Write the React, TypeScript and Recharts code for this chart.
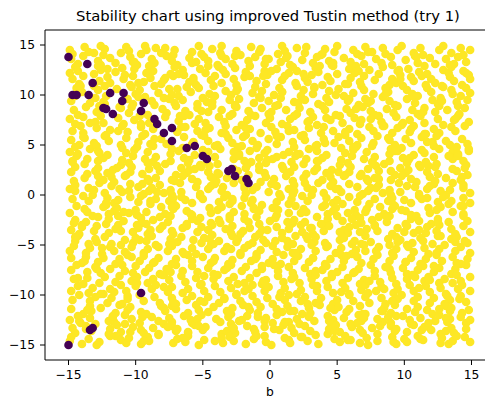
import { ScatterChart, Scatter, XAxis, YAxis, ReferenceLine } from 'recharts';

const TICKS = [-15, -10, -5, 0, 5, 10, 15];
const YELLOW = '#fde725';
const PURPLE = '#440154';
const FONT = '"DejaVu Sans", sans-serif';

// stable samples (x = b, y = second parameter)
const yellowTop = [
  [-14.9,14.5],[-14.7,14.1],[-13.8,14.8],[-13.5,14.3],[-12.6,14.9],[-12.4,14.0],[-12.3,14.6],[-11.1,14.2],[-10.7,14.8],[-10.5,14.4],
  [-9.6,14.1],[-9.3,14.9],[-9.2,14.5],[-8.1,14.2],[-7.8,14.7],[-7.2,14.0],[-7.1,14.5],[-5.8,14.3],[-5.3,14.9],[-5.1,14.1],
  [-4.3,14.6],[-3.7,14.2],[-3.6,14.9],[-2.5,14.4],[-2.2,14.0],[-1.4,14.8],[-0.8,14.3],[-0.7,14.6],[0.6,14.1],[0.9,14.9],
  [1.1,14.4],[2.0,14.7],[2.6,14.2],[2.7,14.8],[3.8,14.0],[4.1,14.6],[4.8,14.3],[5.0,14.9],[6.2,14.5],[6.5,14.1],
  [7.1,14.8],[7.3,14.3],[8.4,14.7],[8.6,14.1],[9.5,14.5],[9.8,14.9],[10.7,14.2],[11.2,14.7],[11.4,14.0],[12.6,14.5],
  [12.9,14.9],[13.5,14.2],[14.2,14.7],[14.4,14.0],[14.9,14.5],
  [-14.8,13.6],[-14.3,13.1],[-13.9,13.9],[-12.8,13.4],[-12.6,13.0],[-11.9,13.7],[-11.5,13.2],[-10.4,13.8],[-10.2,13.3],[-9.9,13.0],
  [-8.8,13.6],[-8.6,13.2],[-7.7,13.9],[-7.3,13.4],[-6.9,13.0],[-6.0,13.7],[-5.8,13.2],[-4.9,13.8],[-4.6,13.4],[-3.9,13.0],
  [-3.3,13.6],[-2.8,13.1],[-2.6,13.9],[-1.6,13.4],[-1.1,13.8],[-0.4,13.1],[-0.1,13.6],[0.8,13.3],[1.3,13.9],[1.5,13.0],
  [2.4,13.5],[3.2,13.2],[3.5,13.8],[4.4,13.4],[4.6,13.0],[5.5,13.7],[6.0,13.3],[6.8,13.9],[7.0,13.1],[7.9,13.6],
  [8.3,13.2],[9.0,13.8],[9.1,13.0],[10.1,13.5],[10.8,13.9],[11.0,13.2],[11.9,13.7],[12.3,13.1],[13.1,13.6],[13.4,13.0],
  [14.0,13.8],[14.6,13.3],
  [-14.9,12.2],[-14.5,12.8],[-14.3,12.4],[-13.1,12.1],[-12.8,12.9],[-12.6,12.5],[-11.5,12.3],[-11.0,12.7],[-10.8,12.0],[-10.1,12.6],
  [-9.2,12.2],[-9.0,12.9],[-8.7,12.4],[-7.4,12.1],[-7.1,12.8],[-6.5,12.5],[-6.4,12.0],[-5.2,12.6],[-4.8,12.2],[-4.6,12.9],
  [-3.5,12.5],[-3.3,12.1],[-2.6,12.7],[-1.8,12.3],[-1.5,12.9],[-0.4,12.4],[-0.2,12.0],[0.5,12.6],[1.4,12.2],[1.7,12.8],
  [2.0,12.4],[3.1,12.0],[3.4,12.7],[3.6,12.3],[4.7,12.9],[5.0,12.1],[5.9,12.6],[6.3,12.2],[6.4,12.9],[7.4,12.5],
  [8.1,12.1],[8.4,12.8],[9.5,12.4],[9.7,12.0],[10.3,12.6],[11.1,12.3],[11.5,12.9],[11.7,12.1],[12.9,12.5],[13.3,12.2],
  [13.5,12.8],[14.4,12.4],[14.8,12.0],
  [-14.7,11.6],[-14.2,11.1],[-13.9,11.9],[-12.7,11.4],[-12.1,11.8],[-11.9,11.2],[-10.9,11.6],[-10.4,11.0],[-10.2,11.9],[-9.4,11.3],
  [-8.9,11.7],[-8.1,11.1],[-7.9,11.5],[-7.2,11.9],[-6.0,11.3],[-5.7,11.7],[-5.5,11.0],[-4.4,11.5],[-4.1,11.9],[-3.6,11.2],
  [-2.7,11.6],[-2.5,11.0],[-1.9,11.8],[-1.0,11.4],[-0.5,11.9],[-0.3,11.1],[0.9,11.5],[1.1,11.9],[1.9,11.2],[2.6,11.7],
  [2.8,11.3],[3.9,11.0],[4.3,11.8],[4.5,11.4],[5.6,11.1],[6.0,11.7],[6.7,11.3],[7.0,11.9],[7.8,11.5],[8.9,11.0],
  [9.1,11.6],[9.4,11.2],[10.5,11.8],[10.7,11.4],[11.6,11.0],[12.0,11.6],[12.3,11.2],[13.4,11.8],[13.7,11.4],[14.3,11.0],
  [14.9,11.6],
  [-14.4,10.7],[-14.0,10.3],[-13.1,10.9],[-12.8,10.5],[-12.3,10.9],[-11.4,10.6],[-10.3,10.8],[-10.0,10.1],[-9.7,10.5],[-8.6,10.9],
  [-8.3,10.2],[-7.5,10.6],[-7.3,10.0],[-6.2,10.8],[-5.9,10.3],[-5.3,10.7],[-4.5,10.1],[-4.2,10.9],[-3.3,10.4],[-2.9,10.0],
  [-2.4,10.6],[-1.3,10.2],[-1.1,10.8],[-0.6,10.4],[0.3,10.0],[0.7,10.7],[0.9,10.3],[2.0,10.9],[2.5,10.5],[3.2,10.1],
  [3.3,10.8],[4.4,10.4],[4.9,10.0],[5.1,10.6],[6.2,10.2],[6.8,10.9],[7.0,10.5],[7.7,10.1],[8.6,10.7],[8.8,10.3],
  [9.9,10.9],[10.2,10.5],[10.6,10.1],[11.7,10.7],[12.0,10.3],[12.8,10.9],[13.5,10.5],[13.6,10.1],[14.6,10.7],[14.9,10.2],
];

const yellowUpper = [
  [-14.8,9.4],[-14.5,9.9],[-13.4,9.2],[-13.0,9.7],[-12.4,9.3],[-12.2,9.9],[-10.6,9.6],[-10.2,9.1],[-9.8,9.8],[-8.8,9.4],
  [-8.6,9.0],[-7.9,9.7],[-7.1,9.2],[-6.8,9.9],[-6.5,9.5],[-5.4,9.1],[-5.0,9.7],[-4.3,9.3],[-4.1,9.9],[-3.0,9.5],
  [-2.6,9.0],[-2.3,9.6],[-1.2,9.2],[-0.8,9.8],[-0.1,9.4],[0.6,9.0],[0.8,9.7],[1.8,9.3],[2.3,9.9],[2.6,9.5],
  [3.6,9.1],[4.2,9.7],[4.4,9.3],[5.5,9.9],[5.8,9.4],[6.6,9.0],[7.1,9.6],[7.3,9.2],[8.4,9.8],[8.9,9.4],
  [9.3,9.0],[10.2,9.6],[10.8,9.2],[11.0,9.9],[12.1,9.5],[12.5,9.1],[12.7,9.7],[13.9,9.3],[14.2,9.9],[14.7,9.5],
  [-14.6,8.5],[-14.3,8.0],[-13.7,8.8],[-12.9,8.3],[-12.7,8.9],[-11.1,8.7],[-10.5,8.2],[-10.3,8.8],[-9.1,8.0],[-8.0,8.6],
  [-7.7,8.2],[-7.0,8.9],[-6.3,8.4],[-6.0,8.0],[-5.4,8.7],[-4.6,8.3],[-4.3,8.9],[-3.6,8.5],[-2.8,8.1],[-2.5,8.8],
  [-1.6,8.4],[-1.4,8.0],[-0.6,8.7],[0.1,8.3],[0.4,8.9],[1.2,8.5],[2.0,8.1],[2.2,8.7],[3.0,8.3],[3.9,8.9],
  [4.1,8.5],[4.9,8.0],[5.7,8.6],[6.0,8.2],[6.9,8.8],[7.5,8.4],[7.8,8.0],[8.7,8.6],[9.2,8.2],[9.5,8.9],
  [10.6,8.5],[11.0,8.1],[11.5,8.7],[12.3,8.3],[12.6,8.9],[13.2,8.5],[14.1,8.1],[14.5,8.7],
  [-14.9,7.6],[-14.5,7.1],[-13.9,7.8],[-13.0,7.3],[-12.6,7.9],[-12.4,7.2],[-11.3,7.7],[-10.9,7.1],[-10.1,7.5],[-9.7,7.9],
  [-9.0,7.2],[-7.8,7.8],[-6.8,7.4],[-6.4,7.9],[-5.6,7.1],[-5.3,7.6],[-4.8,7.2],[-3.8,7.8],[-3.4,7.3],[-3.0,7.9],
  [-2.1,7.0],[-1.7,7.5],[-1.1,7.9],[-0.3,7.2],[0.0,7.7],[0.9,7.1],[1.5,7.6],[1.8,7.9],[2.8,7.3],[3.2,7.8],
  [3.5,7.0],[4.5,7.5],[5.2,7.9],[5.4,7.2],[6.3,7.7],[6.7,7.1],[7.5,7.6],[8.1,7.9],[8.3,7.3],[9.4,7.8],
  [9.8,7.0],[10.4,7.5],[11.2,7.9],[11.5,7.2],[12.5,7.6],[12.9,7.0],[13.7,7.5],[14.0,7.9],[14.8,7.3],
  [-14.7,6.4],[-14.1,6.9],[-13.9,6.2],[-12.9,6.7],[-12.2,6.0],[-11.9,6.5],[-11.0,6.9],[-10.6,6.3],[-9.6,6.8],[-9.3,6.1],
  [-8.7,6.6],[-6.9,6.3],[-6.6,6.8],[-5.4,6.4],[-5.1,6.0],[-4.5,6.7],[-3.6,6.2],[-3.3,6.9],[-2.5,6.5],[-1.8,6.0],
  [-1.5,6.6],[-0.7,6.2],[0.1,6.8],[0.4,6.3],[1.3,6.9],[1.8,6.5],[2.5,6.0],[2.9,6.7],[3.8,6.2],[4.0,6.8],
  [4.7,6.4],[5.6,6.0],[5.9,6.6],[6.5,6.1],[7.4,6.8],[7.7,6.4],[8.5,6.9],[9.1,6.2],[9.5,6.7],[10.4,6.3],
  [10.7,6.9],[11.6,6.1],[12.2,6.6],[12.6,6.2],[13.5,6.8],[13.8,6.4],[14.5,6.9],
  [-14.8,5.5],[-14.2,5.0],[-13.8,5.7],[-13.1,5.2],[-12.3,5.9],[-12.0,5.4],[-11.1,5.0],[-10.7,5.7],[-9.8,5.3],[-9.5,5.9],
  [-8.9,5.1],[-8.1,5.6],[-7.7,5.1],[-6.4,5.8],[-5.7,5.3],[-4.9,5.9],[-4.6,5.4],[-3.9,5.0],[-3.1,5.7],[-2.8,5.2],
  [-2.0,5.8],[-1.3,5.4],[-0.9,5.0],[-0.1,5.6],[0.5,5.1],[0.8,5.8],[1.7,5.3],[2.3,5.9],[2.6,5.5],[3.5,5.0],
  [4.0,5.6],[4.8,5.2],[5.1,5.8],[5.9,5.4],[6.5,5.0],[6.8,5.7],[7.7,5.2],[8.0,5.9],[8.9,5.5],[9.3,5.0],
  [10.1,5.6],[10.5,5.2],[11.3,5.8],[11.7,5.3],[12.4,5.9],[13.1,5.4],[13.4,5.0],[14.3,5.6],[14.7,5.1],
];

const yellowMiddle = [
  [-14.9,4.3],[-14.5,4.8],[-14.3,4.1],[-13.4,4.6],[-12.9,4.9],[-12.8,4.4],[-12.1,4.0],[-11.0,4.7],[-10.7,4.2],[-10.1,4.5],
  [-9.9,4.8],[-9.1,4.3],[-8.7,4.9],[-7.4,4.1],[-7.3,4.6],[-6.8,4.4],[-6.5,4.7],[-5.6,4.0],[-5.0,4.5],[-4.8,4.2],
  [-4.1,4.9],[-3.7,4.6],[-2.7,4.3],[-2.4,4.8],[-2.3,4.1],[-1.5,4.4],[-1.0,4.7],[-0.4,4.2],[-0.2,4.5],[1.0,4.0],
  [1.4,4.3],[1.8,4.8],[2.0,4.1],[2.9,4.6],[3.4,4.9],[3.5,4.4],[4.2,4.0],[5.3,4.7],[5.6,4.2],[6.2,4.5],
  [6.4,4.8],[7.2,4.3],[7.6,4.9],[8.9,4.1],[9.0,4.6],[9.5,4.4],[9.8,4.7],[10.7,4.0],[11.3,4.5],[11.5,4.2],
  [12.2,4.9],[12.6,4.6],[13.6,4.3],[13.9,4.8],[14.0,4.1],[14.8,4.4],
  [-14.7,3.3],[-14.4,3.9],[-13.8,3.1],[-13.6,3.6],[-12.8,3.4],[-12.4,3.7],[-11.1,3.0],[-11.0,3.5],[-10.5,3.2],[-10.2,3.9],
  [-9.3,3.6],[-8.7,3.3],[-8.5,3.8],[-7.8,3.1],[-7.4,3.4],[-6.4,3.7],[-6.1,3.2],[-6.0,3.5],[-5.2,3.0],[-4.7,3.3],
  [-4.1,3.8],[-3.9,3.1],[-2.7,3.6],[-2.3,3.9],[-1.9,3.4],[-1.7,3.0],[-0.8,3.7],[-0.3,3.2],[-0.2,3.5],[0.5,3.8],
  [1.6,3.3],[1.9,3.9],[2.5,3.1],[2.7,3.6],[3.5,3.4],[3.9,3.7],[5.2,3.0],[5.3,3.5],[5.8,3.2],[6.1,3.9],
  [7.0,3.6],[7.6,3.3],[7.8,3.8],[8.5,3.1],[8.9,3.4],[9.9,3.7],[10.2,3.2],[10.3,3.5],[11.1,3.0],[11.6,3.3],
  [12.2,3.8],[12.4,3.1],[13.6,3.6],[14.0,3.9],[14.4,3.4],[14.6,3.0],
  [-14.8,2.3],[-14.5,2.8],[-13.6,2.1],[-13.0,2.4],[-12.8,2.7],[-12.1,2.2],[-11.7,2.5],[-10.7,2.0],[-10.4,2.3],[-10.3,2.8],
  [-9.5,2.1],[-9.0,2.6],[-8.4,2.9],[-8.2,2.4],[-7.0,2.0],[-6.6,2.7],[-6.2,2.2],[-6.0,2.5],[-5.1,2.8],[-4.6,2.3],
  [-4.5,2.9],[-3.8,2.1],[-2.7,2.6],[-2.4,2.4],[-1.8,2.7],[-1.6,2.0],[-0.8,2.5],[-0.4,2.2],[0.9,2.9],[1.0,2.6],
  [1.5,2.3],[1.8,2.8],[2.7,2.1],[3.3,2.4],[3.5,2.7],[4.2,2.2],[4.6,2.5],[5.6,2.0],[5.9,2.3],[6.0,2.8],
  [6.8,2.1],[7.3,2.6],[7.9,2.9],[8.1,2.4],[9.3,2.0],[9.7,2.7],[10.1,2.2],[10.3,2.5],[11.2,2.8],[11.7,2.3],
  [11.8,2.9],[12.5,2.1],[13.6,2.6],[13.9,2.4],[14.5,2.7],[14.7,2.0],
  [-14.6,1.4],[-14.5,1.0],[-13.8,1.7],[-12.7,1.2],[-12.4,1.5],[-11.8,1.8],[-11.6,1.3],[-10.8,1.9],[-10.4,1.1],[-9.1,1.6],
  [-9.0,1.4],[-8.5,1.7],[-8.2,1.0],[-7.3,1.5],[-6.7,1.2],[-6.5,1.9],[-5.8,1.6],[-5.4,1.3],[-4.4,1.8],[-4.1,1.1],
  [-4.0,1.4],[-3.2,1.7],[-2.7,1.2],[-2.1,1.5],[-1.9,1.0],[-0.7,1.3],[-0.3,1.8],[0.1,1.1],[0.3,1.6],[1.2,1.9],
  [1.7,1.4],[1.8,1.0],[2.5,1.7],[3.6,1.2],[3.9,1.5],[4.5,1.8],[4.7,1.3],[5.5,1.9],[5.9,1.1],[7.2,1.6],
  [7.3,1.4],[7.8,1.7],[8.1,1.0],[9.0,1.5],[9.6,1.2],[9.8,1.9],[10.5,1.6],[10.9,1.3],[11.9,1.8],[12.2,1.1],
  [12.3,1.4],[13.1,1.7],[13.6,1.2],[14.2,1.5],[14.4,1.0],
  [-14.9,0.6],[-14.5,0.4],[-13.5,0.7],[-13.2,0.0],[-13.1,0.5],[-12.3,0.2],[-11.8,0.9],[-11.2,0.6],[-11.0,0.3],[-9.8,0.8],
  [-9.4,0.1],[-9.0,0.4],[-8.8,0.7],[-7.9,0.2],[-7.4,0.5],[-7.3,0.0],[-6.6,0.3],[-5.5,0.8],[-5.2,0.1],[-4.6,0.6],
  [-4.4,0.9],[-3.6,0.4],[-3.2,0.0],[-1.9,0.7],[-1.8,0.2],[-1.3,0.5],[-1.0,0.8],[-0.1,0.3],[0.5,0.9],[0.7,0.1],
  [1.4,0.6],[1.8,0.4],[2.8,0.7],[3.1,0.0],[3.2,0.5],[4.0,0.2],[4.5,0.9],[5.1,0.6],[5.3,0.3],[6.5,0.8],
  [6.9,0.1],[7.3,0.4],[7.5,0.7],[8.4,0.2],[8.9,0.5],[9.0,0.0],[9.7,0.3],[10.8,0.8],[11.1,0.1],[11.7,0.6],
  [11.9,0.9],[12.7,0.4],[13.1,0.0],[14.4,0.7],[14.9,0.2],
];

const yellowLowerMiddle = [
  [-14.7,-0.4],[-13.9,-0.1],[-13.5,-0.6],[-12.2,-1.0],[-12.1,-0.3],[-11.6,-0.8],[-11.3,-0.5],[-10.4,-0.2],[-9.8,-0.7],[-9.6,-0.1],
  [-8.9,-0.9],[-8.5,-0.4],[-7.5,-0.6],[-7.2,-0.3],[-7.1,-1.0],[-6.3,-0.5],[-5.8,-0.8],[-5.2,-0.1],[-5.0,-0.4],[-3.8,-0.7],
  [-3.4,-0.2],[-3.0,-0.9],[-2.8,-0.6],[-1.9,-0.3],[-1.4,-0.8],[-1.3,-0.5],[-0.6,-1.0],[0.5,-0.7],[0.8,-0.2],[1.4,-0.9],
  [1.6,-0.4],[2.4,-0.1],[2.8,-0.6],[4.1,-1.0],[4.2,-0.3],[4.7,-0.8],[5.0,-0.5],[5.9,-0.2],[6.5,-0.7],[6.7,-0.1],
  [7.4,-0.9],[7.8,-0.4],[8.8,-0.6],[9.1,-0.3],[9.2,-1.0],[10.0,-0.5],[10.5,-0.8],[11.1,-0.1],[11.3,-0.4],[12.5,-0.7],
  [12.9,-0.2],[13.3,-0.9],[13.5,-0.6],[14.4,-0.3],[14.9,-0.8],
  [-14.9,-1.8],[-14.4,-1.1],[-13.8,-1.4],[-13.6,-1.7],[-12.4,-1.2],[-12.0,-1.9],[-11.6,-1.6],[-11.4,-1.3],[-10.5,-1.8],[-10.0,-1.5],
  [-9.9,-2.0],[-9.2,-1.7],[-8.1,-1.2],[-7.8,-1.9],[-7.2,-1.4],[-7.0,-1.1],[-6.2,-1.6],[-5.8,-2.0],[-4.5,-1.3],[-4.4,-1.8],
  [-3.9,-1.5],[-3.6,-1.2],[-2.7,-1.7],[-2.1,-1.1],[-1.9,-1.9],[-1.2,-1.4],[-0.8,-1.6],[0.2,-1.3],[0.5,-2.0],[0.6,-1.5],
  [1.4,-1.8],[1.9,-1.1],[2.5,-1.4],[2.7,-1.7],[3.9,-1.2],[4.3,-1.9],[4.7,-1.6],[4.9,-1.3],[5.8,-1.8],[6.3,-1.5],
  [6.4,-2.0],[7.1,-1.7],[8.2,-1.2],[8.5,-1.9],[9.1,-1.4],[9.3,-1.1],[10.1,-1.6],[10.5,-2.0],[11.8,-1.3],[11.9,-1.8],
  [12.4,-1.5],[12.7,-1.2],[13.6,-1.7],[14.2,-1.1],[14.4,-1.9],
  [-14.6,-2.8],[-14.5,-2.5],[-14.0,-3.0],[-13.7,-2.7],[-12.8,-2.2],[-12.2,-2.9],[-12.0,-2.4],[-11.3,-2.1],[-10.9,-2.6],[-9.9,-3.0],
  [-9.6,-2.3],[-9.5,-2.8],[-8.7,-2.5],[-8.2,-2.2],[-7.6,-2.7],[-7.4,-2.1],[-6.2,-2.9],[-5.8,-2.4],[-5.4,-2.6],[-5.2,-2.3],
  [-4.3,-3.0],[-3.8,-2.5],[-3.7,-2.8],[-3.0,-2.1],[-1.9,-2.4],[-1.6,-2.7],[-1.0,-2.2],[-0.8,-2.9],[0.0,-2.6],[0.4,-2.3],
  [1.7,-2.8],[1.8,-2.5],[2.3,-3.0],[2.6,-2.7],[3.5,-2.2],[4.1,-2.9],[4.3,-2.4],[5.0,-2.1],[5.4,-2.6],[6.4,-3.0],
  [6.7,-2.3],[6.8,-2.8],[7.6,-2.5],[8.1,-2.2],[8.7,-2.7],[8.9,-2.1],[10.1,-2.9],[10.5,-2.4],[10.9,-2.1],[11.1,-2.6],
  [12.0,-2.9],[12.5,-2.4],[12.6,-3.0],[13.3,-2.7],[14.4,-2.1],[14.7,-2.6],
  [-14.8,-3.5],[-14.2,-3.9],[-14.0,-3.2],[-13.1,-3.6],[-12.9,-3.1],[-12.0,-3.8],[-11.5,-3.4],[-11.3,-3.0],[-10.2,-3.7],[-9.8,-3.3],
  [-9.1,-3.9],[-8.9,-3.5],[-8.0,-3.1],[-7.3,-3.6],[-7.2,-3.9],[-6.5,-3.3],[-5.4,-3.7],[-5.1,-3.2],[-4.6,-3.5],[-4.3,-4.0],
  [-3.3,-3.4],[-2.9,-3.8],[-2.8,-3.1],[-2.0,-3.6],[-1.5,-3.3],[-0.8,-3.9],[-0.6,-3.5],[0.5,-3.2],[0.9,-3.8],[1.4,-3.4],
  [1.5,-3.0],[2.4,-3.7],[3.0,-3.3],[3.2,-3.9],[4.0,-3.6],[4.4,-3.1],[5.5,-3.5],[5.8,-3.8],[5.9,-3.2],[6.7,-3.7],
  [7.2,-3.4],[7.8,-3.0],[8.0,-3.6],[9.1,-3.9],[9.5,-3.3],[10.0,-3.7],[10.2,-3.1],[11.1,-3.5],[11.6,-3.8],[11.7,-3.2],
  [12.4,-3.6],[13.5,-3.4],[13.8,-3.9],[14.4,-3.1],[14.9,-3.7],
  [-14.5,-4.6],[-14.3,-4.1],[-13.5,-4.9],[-13.0,-4.4],[-12.9,-4.7],[-12.3,-4.2],[-11.1,-5.0],[-10.8,-4.5],[-10.2,-4.8],[-10.0,-4.3],
  [-9.2,-4.6],[-8.8,-4.1],[-7.5,-4.9],[-7.4,-4.4],[-6.9,-4.7],[-6.6,-4.2],[-5.7,-4.5],[-5.1,-4.8],[-4.9,-4.3],[-4.2,-4.9],
  [-3.8,-4.6],[-2.8,-4.1],[-2.5,-4.7],[-2.4,-4.4],[-1.6,-5.0],[-1.1,-4.2],[-0.5,-4.5],[-0.3,-4.8],[0.9,-4.3],[1.3,-4.6],
  [1.7,-4.9],[1.9,-4.1],[2.8,-4.4],[3.3,-4.7],[3.4,-4.2],[4.1,-4.8],[5.2,-4.5],[5.5,-4.3],[6.1,-4.9],[6.3,-4.6],
  [7.1,-4.1],[7.5,-4.7],[8.8,-4.4],[8.9,-5.0],[9.4,-4.2],[9.7,-4.5],[10.6,-4.8],[11.2,-4.3],[11.4,-4.6],[12.1,-4.9],
  [12.5,-4.1],[13.5,-4.4],[13.8,-4.7],[13.9,-4.2],[14.7,-4.8],
];

const yellowLower = [
  [-14.9,-5.6],[-14.6,-5.1],[-13.7,-5.8],[-13.4,-5.3],[-12.5,-5.9],[-11.9,-5.2],[-11.6,-5.6],[-10.8,-5.7],[-10.3,-5.2],[-9.4,-5.8],
  [-9.1,-5.4],[-8.5,-5.0],[-7.6,-5.6],[-7.3,-5.1],[-6.5,-5.7],[-5.8,-5.3],[-5.5,-5.9],[-4.6,-5.4],[-4.4,-5.0],[-3.4,-5.6],
  [-3.2,-5.2],[-2.2,-5.8],[-1.9,-5.3],[-1.0,-5.9],[-0.7,-5.5],[0.2,-5.1],[0.5,-5.7],[1.3,-5.2],[1.7,-5.8],[2.3,-5.4],
  [3.1,-5.0],[3.4,-5.6],[4.2,-5.2],[4.9,-5.8],[5.3,-5.3],[6.1,-5.9],[6.4,-5.5],[7.0,-5.0],[7.9,-5.6],[8.1,-5.2],
  [9.1,-5.8],[9.4,-5.4],[10.2,-5.0],[10.7,-5.7],[11.5,-5.3],[11.8,-5.9],[12.6,-5.4],[13.0,-5.0],[13.8,-5.6],[14.2,-5.2],
  [14.9,-5.8],
  [-14.8,-6.3],[-14.0,-6.8],[-13.7,-6.2],[-12.8,-6.7],[-12.4,-6.3],[-11.5,-6.9],[-11.2,-6.4],[-10.6,-6.0],[-9.7,-6.6],[-9.4,-6.1],
  [-8.6,-6.7],[-8.3,-6.3],[-7.3,-6.9],[-7.0,-6.4],[-6.1,-6.0],[-5.8,-6.6],[-5.0,-6.2],[-4.4,-6.8],[-4.1,-6.3],[-3.1,-6.9],
  [-2.8,-6.5],[-2.2,-6.0],[-1.4,-6.6],[-1.0,-6.2],[-0.1,-6.8],[0.2,-6.4],[1.0,-6.0],[1.8,-6.6],[2.1,-6.1],[2.9,-6.7],
  [3.2,-6.3],[4.1,-6.9],[4.5,-6.4],[5.3,-6.0],[5.5,-6.6],[6.5,-6.2],[6.8,-6.8],[7.7,-6.4],[8.0,-6.0],[8.9,-6.6],
  [9.2,-6.1],[10.1,-6.7],[10.5,-6.3],[11.2,-6.9],[11.6,-6.4],[12.4,-6.0],[12.8,-6.6],[13.6,-6.2],[13.9,-6.8],[14.7,-6.4],
  [-14.8,-7.5],[-14.4,-7.0],[-13.6,-7.7],[-13.0,-7.2],[-12.6,-7.8],[-11.9,-7.4],[-11.0,-7.0],[-10.8,-7.6],[-10.0,-7.1],[-9.3,-7.7],
  [-9.0,-7.3],[-8.2,-7.9],[-7.7,-7.4],[-7.0,-7.0],[-6.5,-7.6],[-5.8,-7.1],[-5.4,-7.7],[-4.6,-7.3],[-4.2,-7.9],[-3.4,-7.5],
  [-2.9,-7.0],[-2.1,-7.6],[-1.8,-7.2],[-1.0,-7.8],[-0.6,-7.4],[0.3,-7.0],[0.6,-7.6],[1.4,-7.2],[1.7,-7.8],[2.6,-7.3],
  [3.0,-7.9],[3.9,-7.5],[4.2,-7.1],[5.0,-7.7],[5.4,-7.2],[6.2,-7.8],[6.6,-7.4],[7.5,-7.0],[7.8,-7.6],[8.6,-7.2],
  [9.0,-7.8],[9.9,-7.3],[10.2,-7.9],[11.0,-7.5],[11.4,-7.1],[12.2,-7.7],[12.6,-7.3],[13.5,-7.9],[13.8,-7.4],[14.6,-7.0],
  [-14.6,-8.4],[-13.9,-8.9],[-13.6,-8.3],[-12.7,-8.8],[-12.3,-8.2],[-11.5,-8.7],[-11.2,-8.1],[-10.3,-8.6],[-9.9,-8.2],[-9.1,-8.8],
  [-8.7,-8.4],[-7.9,-8.0],[-7.5,-8.5],[-6.6,-8.1],[-6.3,-8.7],[-5.5,-8.3],[-5.1,-8.9],[-4.2,-8.4],[-3.9,-8.0],[-3.1,-8.6],
  [-2.7,-8.2],[-1.9,-8.8],[-1.5,-8.3],[-0.6,-8.9],[-0.3,-8.5],[0.6,-8.1],[1.0,-8.7],[1.8,-8.2],[2.2,-8.8],[3.1,-8.4],
  [3.4,-8.0],[4.2,-8.6],[4.6,-8.2],[5.4,-8.8],[5.8,-8.3],[6.7,-8.9],[7.0,-8.5],[7.8,-8.1],[8.2,-8.7],[9.1,-8.3],
  [9.4,-8.9],[10.2,-8.4],[10.6,-8.0],[11.5,-8.6],[11.8,-8.2],[12.6,-8.8],[13.0,-8.4],[13.9,-8.0],[14.2,-8.6],[14.9,-8.2],
  [-14.8,-9.6],[-14.3,-9.1],[-13.5,-9.8],[-13.2,-9.3],[-12.4,-9.9],[-11.9,-9.4],[-11.1,-9.0],[-10.7,-9.6],[-10.0,-9.1],[-8.8,-9.4],
  [-8.5,-9.0],[-7.6,-9.7],[-7.3,-9.2],[-6.5,-9.8],[-6.1,-9.4],[-5.2,-9.0],[-4.9,-9.6],[-4.1,-9.1],[-3.7,-9.7],[-2.9,-9.3],
  [-2.5,-9.9],[-1.6,-9.4],[-1.3,-9.0],[-0.4,-9.6],[-0.1,-9.2],[0.8,-9.8],[1.1,-9.3],[2.0,-9.9],[2.3,-9.5],[3.2,-9.0],
  [3.5,-9.6],[4.3,-9.2],[4.7,-9.8],[5.6,-9.3],[5.9,-9.9],[6.8,-9.5],[7.1,-9.0],[7.9,-9.6],[8.3,-9.2],[9.2,-9.8],
  [9.5,-9.4],[10.4,-9.0],[10.7,-9.6],[11.6,-9.1],[11.9,-9.7],[12.7,-9.3],[13.1,-9.9],[14.0,-9.4],[14.3,-9.0],[14.9,-9.6],
];

const yellowBottom = [
  [-14.7,-10.5],[-14.2,-10.0],[-13.4,-10.6],[-13.0,-10.2],[-12.1,-10.8],[-11.8,-10.3],[-11.0,-10.9],[-10.6,-10.4],[-9.7,-10.0],[-9.4,-10.6],
  [-8.6,-10.2],[-8.2,-10.8],[-7.3,-10.3],[-7.0,-10.9],[-6.2,-10.5],[-5.8,-10.1],[-4.9,-10.7],[-4.6,-10.2],[-3.8,-10.8],[-3.4,-10.4],
  [-2.5,-10.0],[-2.2,-10.6],[-1.3,-10.1],[-1.0,-10.7],[-0.2,-10.3],[0.2,-10.9],[1.1,-10.5],[1.4,-10.0],[2.3,-10.6],[2.6,-10.2],
  [3.4,-10.8],[3.8,-10.3],[4.7,-10.9],[5.0,-10.5],[5.9,-10.0],[6.2,-10.6],[7.1,-10.2],[7.4,-10.8],[8.3,-10.3],[8.6,-10.9],
  [9.5,-10.4],[9.8,-10.0],[10.7,-10.6],[11.0,-10.2],[11.9,-10.8],[12.2,-10.3],[13.0,-10.9],[13.4,-10.5],[14.2,-10.1],[14.6,-10.7],
  [-14.8,-11.4],[-13.9,-11.9],[-13.4,-11.1],[-13.3,-11.6],[-12.6,-11.3],[-11.5,-11.8],[-11.2,-11.0],[-10.6,-11.5],[-10.4,-11.2],[-9.6,-11.7],
  [-9.2,-11.9],[-7.9,-11.3],[-7.8,-11.6],[-7.3,-11.1],[-7.0,-11.4],[-6.1,-11.8],[-5.5,-11.0],[-5.3,-11.5],[-4.6,-11.7],[-4.2,-11.2],
  [-3.2,-11.6],[-2.9,-11.9],[-2.8,-11.3],[-2.0,-11.0],[-1.5,-11.5],[-0.9,-11.8],[-0.7,-11.2],[0.5,-11.4],[0.9,-11.7],[1.3,-11.1],
  [1.5,-11.6],[2.4,-11.9],[2.9,-11.3],[3.0,-11.8],[3.7,-11.0],[4.8,-11.5],[5.1,-11.2],[5.7,-11.7],[5.9,-11.4],[6.7,-11.1],
  [7.1,-11.9],[8.4,-11.6],[8.5,-11.3],[9.0,-11.8],[9.3,-11.0],[10.2,-11.4],[10.8,-11.7],[11.0,-11.2],[11.7,-11.5],[12.1,-11.9],
  [13.1,-11.1],[13.4,-11.6],[13.5,-11.3],[14.3,-11.8],[14.8,-11.5],
  [-14.9,-12.5],[-14.3,-12.1],[-14.1,-12.8],[-13.4,-12.3],[-13.0,-12.9],[-12.0,-12.6],[-11.7,-12.2],[-11.6,-12.7],[-10.8,-12.0],[-10.3,-12.4],
  [-9.7,-12.8],[-9.5,-12.2],[-8.3,-12.6],[-7.9,-12.9],[-7.5,-12.3],[-7.3,-12.7],[-6.4,-12.1],[-5.9,-12.5],[-5.8,-12.8],[-5.1,-12.0],
  [-4.0,-12.4],[-3.7,-12.7],[-3.1,-12.2],[-2.9,-12.9],[-2.1,-12.5],[-1.7,-12.1],[-0.4,-12.6],[-0.3,-12.3],[0.2,-12.8],[0.5,-12.0],
  [1.4,-12.7],[2.0,-12.4],[2.2,-12.9],[2.9,-12.2],[3.3,-12.6],[4.3,-12.1],[4.6,-12.8],[4.7,-12.5],[5.5,-12.3],[6.0,-12.9],
  [6.6,-12.0],[6.8,-12.6],[8.0,-12.4],[8.4,-12.7],[8.8,-12.2],[9.0,-12.8],[9.9,-12.1],[10.4,-12.5],[10.5,-12.9],[11.2,-12.3],
  [12.3,-12.6],[12.6,-12.0],[13.2,-12.7],[13.4,-12.4],[14.2,-12.2],[14.6,-12.8],[14.9,-12.5],
  [-14.7,-13.3],[-14.5,-13.8],[-13.7,-13.1],[-13.3,-13.6],[-12.0,-13.9],[-11.9,-13.4],[-11.4,-13.0],[-11.1,-13.7],[-10.2,-13.2],[-9.6,-13.5],
  [-9.4,-13.8],[-8.7,-13.3],[-8.3,-13.9],[-7.3,-13.1],[-7.0,-13.6],[-6.9,-13.4],[-6.1,-13.7],[-5.6,-13.0],[-5.0,-13.5],[-4.8,-13.2],
  [-3.6,-13.9],[-3.2,-13.6],[-2.8,-13.3],[-2.6,-13.8],[-1.7,-13.1],[-1.2,-13.4],[-1.1,-13.7],[-0.4,-13.2],[0.7,-13.5],[1.0,-13.0],
  [1.6,-13.3],[1.8,-13.8],[2.6,-13.1],[3.0,-13.6],[4.3,-13.9],[4.4,-13.4],[4.9,-13.0],[5.2,-13.7],[6.1,-13.2],[6.7,-13.5],
  [6.9,-13.8],[7.6,-13.3],[8.0,-13.9],[9.0,-13.1],[9.3,-13.6],[9.4,-13.4],[10.2,-13.7],[10.7,-13.0],[11.3,-13.5],[11.5,-13.2],
  [12.7,-13.9],[13.1,-13.6],[13.5,-13.3],[13.7,-13.8],[14.6,-13.4],
  [-14.9,-14.6],[-14.8,-14.2],[-14.0,-14.9],[-13.5,-14.4],[-12.9,-15.0],[-12.7,-14.7],[-11.5,-14.1],[-11.1,-14.5],[-10.7,-14.8],[-10.5,-14.3],
  [-9.6,-14.9],[-9.1,-14.2],[-9.0,-14.6],[-8.3,-14.0],[-7.2,-14.8],[-6.9,-14.4],[-6.3,-14.7],[-6.1,-14.1],[-5.3,-15.0],[-4.9,-14.5],
  [-3.6,-14.3],[-3.5,-14.8],[-3.0,-14.2],[-2.7,-14.6],[-1.8,-14.9],[-1.2,-14.4],[-1.0,-14.1],[-0.3,-14.7],[0.1,-15.0],[1.1,-14.3],
  [1.4,-14.5],[1.5,-14.8],[2.3,-14.2],[2.8,-14.6],[3.4,-14.0],[3.6,-14.9],[4.8,-14.4],[5.2,-14.7],[5.6,-14.1],[5.8,-14.5],
  [6.7,-14.8],[7.2,-14.3],[7.3,-15.0],[8.0,-14.6],[9.1,-14.2],[9.4,-14.9],[10.0,-14.4],[10.2,-14.7],[11.0,-14.1],[11.4,-14.5],
  [12.7,-14.8],[12.8,-14.3],[13.3,-14.9],[13.6,-14.6],[14.5,-14.2],[14.9,-14.7],
];

// stable samples that sit between the bands above
const yellowScattered = [
  [3.7,12.9],[-8.2,-3.4],[11.5,6.1],[-0.9,-12.2],[6.3,-7.7],[-12.8,1.9],[14.1,-10.4],[-4.7,9.3],[0.2,3.6],[9.8,-1.5],
  [-6.1,-13.8],[2.9,7.4],[-10.3,-6.2],[7.6,14.3],[-2.4,-8.9],[12.7,-4.1],[-13.9,5.8],[4.5,-11.3],[-7.8,11.7],[1.3,-2.7],
  [10.6,9.9],[-3.5,0.8],[8.2,-13.1],[-11.6,-9.7],[5.1,2.3],[-0.3,13.6],[13.4,0.5],[-9.1,3.2],[6.8,-4.9],[-5.2,-10.6],
  [14.6,12.2],[-1.8,6.7],[3.2,-6.3],[-13.2,-2.1],[9.3,4.4],[-4.1,-14.6],[0.9,10.3],[11.9,-8.5],[-8.9,-0.6],[7.3,-9.8],
  [-12.1,12.6],[2.4,-14.2],[-6.7,7.9],[12.3,2.8],[-2.9,-5.4],[5.8,11.1],[-10.8,-12.9],[8.7,-2.2],[-0.6,-7.1],[13.8,7.6],
  [-7.4,-7.7],[4.1,5.2],[-14.3,-8.3],[10.1,-6.7],[-3.8,12.8],[1.7,0.1],[-9.7,-4.5],[6.4,8.6],[-5.6,2.6],[11.2,-14.4],
  [-1.2,-1.3],[14.2,-6.9],[-11.3,6.4],[3.5,-9.1],[-4.4,-2.8],[7.9,0.7],[-8.5,14.7],[0.4,-4.6],[12.9,10.8],[-13.6,-11.5],
  [5.4,-0.9],[-2.1,4.9],[9.6,12.5],[-6.4,-5.9],[2.1,9.2],[-10.9,-1.7],[8.4,6.9],[-3.1,-11.8],[13.1,-12.3],[-7.1,1.4],
  [4.8,-13.6],[-12.5,-5.3],[10.4,3.7],[-0.1,8.1],[6.9,-11.9],[-9.3,9.8],[1.6,-8.4],[-4.9,-8.1],[11.7,-0.3],[-14.7,3.4],
  [3.9,14.1],[-8.1,-11.1],[7.1,-5.6],[-1.5,11.9],[12.5,-2.6],[-11.9,-14.1],[5.6,6.3],[-5.9,-1.9],[9.1,-10.6],[-2.7,-13.3],
  [0.7,-10.2],[14.8,4.6],[-7.6,-13.2],[2.6,1.2],[-12.3,9.1],[8.9,-7.4],[-3.3,6.1],[10.9,13.8],[-9.9,-8.8],[6.1,-2.4],
  [-0.8,2.9],[13.6,-8.8],[-6.9,10.6],[4.3,-5.1],[-10.5,0.4],[11.4,8.3],[-4.2,-6.6],[1.1,-12.7],[-13.4,7.2],[7.7,3.1],
  [-1.9,-9.6],[9.4,-12.1],[-8.6,5.6],[3.3,10.7],[-5.4,-12.4],[12.1,5.3],[-11.1,-3.6],[6.6,12.4],[-2.2,-3.9],[14.4,-1.1],
  [0.5,5.9],[-7.9,-9.2],[10.7,-3.8],[-14.1,10.9],[4.6,-7.9],[-3.6,13.9],[8.1,1.6],[-9.4,-14.6],[2.3,-1.8],[-6.2,-3.1],
  [12.6,-11.4],[-0.4,-14.1],[5.9,9.6],[-12.9,-7.4],[9.9,7.2],[-4.6,4.3],[1.9,-5.8],[-10.1,13.3],[7.4,-8.6],[-2.6,8.9],
  [13.3,3.9],[-8.3,-5.2],[3.1,-3.3],[-5.7,11.4],[11.1,-9.3],[-13.7,-13.4],[6.2,4.8],[-1.1,-6.4],[8.6,10.1],[-11.4,2.7],
  [4.4,-12.6],[-7.3,-1.2],[14.0,8.9],[-3.4,-10.3],[0.1,12.4],[10.3,-5.2],[-9.6,7.1],[2.8,-10.9],[-6.5,-14.3],[12.2,-7.1],
  [-0.2,-3.5],[7.2,-1.4],[-12.7,4.2],[5.3,-9.7],[-4.3,1.7],[9.7,11.6],[-8.8,-12.2],[1.4,6.4],[-2.8,-0.4],[13.9,-14.1],
  [-10.6,-10.1],[6.7,1.9],[-5.1,8.4],[11.8,-12.8],[-14.5,-4.2],[3.6,3.4],[-6.8,12.1],[8.3,-11.6],[-1.6,-11.2],[10.2,0.9],
  [-9.2,-2.9],[4.7,13.2],[-3.2,-7.3],[12.8,9.4],[-11.7,-12.1],[0.8,-6.9],[7.8,-3.1],[-13.1,14.2],[2.7,-4.1],[-5.8,5.1],
  [9.2,-14.7],[-0.7,9.7],[14.5,-4.6],[-8.4,0.3],[5.7,-6.1],[-2.3,-12.6],[11.3,11.9],[-10.2,-7.8],[3.8,-2.9],[-6.3,6.8],
  [13.2,-10.1],[-1.4,3.3],[6.5,-12.8],[-12.2,-0.8],[8.8,5.7],[-4.5,-4.4],[1.2,13.7],[-9.8,11.2],[10.8,-8.2],[-7.2,-10.7],
  [4.2,7.7],[-13.8,-6.6],[7.5,9.4],[-3.9,2.2],[12.4,-5.8],[-0.5,-8.6],[5.2,-3.7],[-11.2,8.8],[9.5,-4.7],[-5.3,-13.1],
  [2.5,12.1],[-8.7,-6.8],[14.3,1.8],[-2.5,10.4],[6.0,-14.5],[-12.6,-9.9],[10.5,6.6],[-6.6,-0.2],[3.4,-7.6],[-9.5,1.1],
  [13.7,13.1],[-1.3,-4.8],[8.5,-9.4],[-4.8,6.5],[0.3,-13.4],[11.6,3.2],[-10.4,-13.7],[4.9,0.6],[-7.5,9.6],[12.0,-13.5],
  [-3.0,-2.4],[6.8,7.5],[-14.2,-12.6],[1.8,-11.6],[9.0,2.4],[-5.5,13.3],[7.0,-12.3],[-11.8,-4.9],[2.2,4.1],[-8.0,-8.0],
];

// unstable samples (dark): the diagonal band plus a few strays
const unstable = [
  [-15.0,13.8],[-13.6,13.1],[-13.2,11.2],[-14.7,10.0],[-14.4,10.0],[-13.5,10.0],[-11.9,10.2],[-10.9,10.2],[-11.0,9.4],
  [-12.4,8.7],[-12.2,8.6],[-11.7,8.1],[-9.6,8.4],[-9.4,9.2],[-8.6,7.6],[-8.4,7.1],[-7.3,6.7],[-7.9,6.2],[-7.3,5.4],
  [-6.2,4.7],[-5.6,4.9],[-5.0,3.9],[-4.7,3.6],[-3.1,2.4],[-2.85,2.6],[-2.6,1.9],[-1.75,1.6],[-1.6,1.2],
  [-9.6,-9.8],[-13.4,-13.5],[-13.2,-13.3],[-15.0,-15.0],
];

const toPoints = (rows: number[][]) => rows.map(([x, y]) => ({ x, y }));

const stablePoints = toPoints([
  ...yellowTop,
  ...yellowUpper,
  ...yellowMiddle,
  ...yellowLowerMiddle,
  ...yellowLower,
  ...yellowBottom,
  ...yellowScattered,
]);
const unstablePoints = toPoints(unstable);

const minus = (v: number) => String(v).replace('-', '\u2212');

const dot = (color: string) => (props: any) => (
  <circle cx={props.cx} cy={props.cy} r={4.3} fill={color} />
);

const tickStyle = { fill: '#000', fontSize: 12.3, fontFamily: FONT };

export default function App() {
  return (
    <div
      style={{
        position: 'absolute',
        left: 0,
        top: 0,
        width: 485,
        height: 399,
        overflow: 'hidden',
        background: '#fff',
      }}
    >
      <ScatterChart width={500} height={399} margin={{ top: 30, right: 5, bottom: 0, left: 0 }}>
        <XAxis
          type="number"
          dataKey="x"
          domain={[-16.75, 16.75]}
          allowDataOverflow
          ticks={TICKS}
          tickFormatter={minus}
          tick={tickStyle}
          tickSize={5}
          tickMargin={5}
          height={39}
          axisLine={{ stroke: '#000' }}
          tickLine={{ stroke: '#000' }}
          label={{ value: 'b', position: 'insideBottom', offset: 3, fill: '#000', fontSize: 12.3, fontFamily: FONT }}
        />
        <YAxis
          type="number"
          dataKey="y"
          domain={[-16.5, 16.5]}
          allowDataOverflow
          ticks={TICKS}
          tickFormatter={minus}
          tick={tickStyle}
          tickSize={5}
          tickMargin={5}
          width={45}
          axisLine={{ stroke: '#000' }}
          tickLine={{ stroke: '#000' }}
        />
        <ReferenceLine y={16.5} stroke="#000" />
        <Scatter data={stablePoints} fill={YELLOW} shape={dot(YELLOW)} isAnimationActive={false} />
        <Scatter data={unstablePoints} fill={PURPLE} shape={dot(PURPLE)} isAnimationActive={false} />
      </ScatterChart>
      <svg width={485} height={30} style={{ position: 'absolute', left: 0, top: 0 }}>
        <text x={268} y={21} textAnchor="middle" fontSize={14.8} fontFamily={FONT} fill="#000">
          Stability chart using improved Tustin method (try 1)
        </text>
      </svg>
    </div>
  );
}
